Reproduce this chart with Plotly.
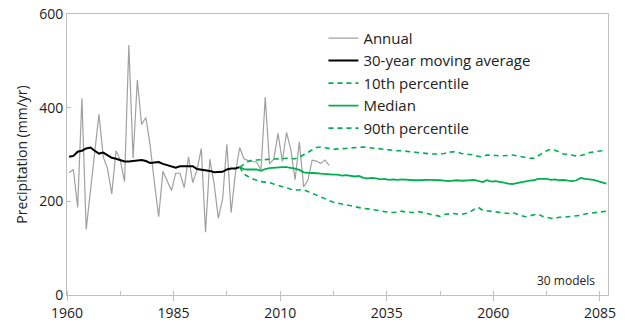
import plotly.graph_objects as go

# Observed annual precipitation (mm/yr)
annual_years = list(range(1960, 2022))
annual = [261, 268, 187, 420, 140, 225, 305, 386, 295, 270,
          216, 308, 288, 242, 534, 292, 459, 364, 379, 320,
          240, 167, 264, 242, 223, 260, 260, 229, 295, 240,
          267, 313, 134, 290, 238, 164, 205, 322, 176, 260,
          315, 291, 287, 285, 284, 267, 422, 280, 290, 345,
          285, 347, 311, 246, 327, 231, 245, 288, 286, 281,
          288, 277]

# 30-year moving average
ma_years = list(range(1960, 2001))
moving_avg = [295, 297, 306, 308, 313, 315, 308, 302, 304, 299,
              293, 291, 288, 285, 285, 286, 287, 288, 286, 282,
              283, 284, 280, 277, 274, 272, 275, 275, 276, 275,
              269, 268, 267, 265, 262, 262, 263, 268, 270, 270,
              273]

# Model projections (30 models)
proj_years = list(range(2000, 2087))
p10 = [273, 258, 253, 248, 245, 242, 241, 240, 237, 234,
       231, 228, 226, 224, 224, 225, 221, 217, 213, 209,
       205, 201, 198, 196, 194, 192, 191, 189, 187, 185,
       184, 183, 182, 180, 178, 177, 176, 177, 179, 177,
       176, 176, 178, 176, 174, 171, 169, 168, 172, 173,
       174, 173, 172, 174, 177, 183, 187, 181, 180, 179,
       178, 176, 175, 174, 176, 173, 171, 167, 169, 171,
       173, 168, 166, 164, 164, 166, 166, 167, 168, 169,
       170, 173, 174, 175, 176, 178, 179]
median = [273, 269, 268, 268, 268, 265, 269, 271, 272, 273,
          273, 273, 272, 270, 267, 262, 261, 261, 260, 259,
          258, 257, 257, 257, 255, 256, 254, 253, 254, 250,
          249, 250, 249, 247, 248, 246, 247, 246, 247, 246,
          246, 245, 245, 246, 246, 246, 246, 245, 244, 243,
          244, 245, 244, 244, 245, 246, 243, 241, 245, 242,
          243, 242, 240, 238, 237, 239, 241, 243, 244, 245,
          248, 248, 248, 246, 247, 245, 246, 244, 243, 245,
          250, 248, 247, 246, 243, 240, 238]
p90 = [273, 280, 285, 288, 288, 289, 289, 290, 290, 290,
       291, 292, 292, 291, 294, 299, 304, 310, 315, 316,
       314, 312, 311, 312, 312, 313, 314, 315, 316, 316,
       315, 314, 312, 311, 310, 309, 308, 308, 308, 307,
       306, 305, 304, 302, 302, 301, 301, 301, 302, 305,
       305, 306, 302, 301, 300, 299, 296, 295, 299, 299,
       298, 297, 297, 298, 299, 297, 296, 294, 292, 292,
       297, 303, 308, 311, 309, 305, 301, 300, 299, 297,
       298, 300, 304, 306, 307, 308, 309]

# values are annual means, plotted at mid-year
def mid(years):
    return [y + 0.5 for y in years]

GREEN = "#00B050"
FONT = "Open Sans"
DASH = "5px,4px"

fig = go.Figure()
fig.add_trace(go.Scatter(x=mid(annual_years), y=annual, mode="lines",
                         name="Annual", line=dict(color="#A0A0A0", width=1.2)))
fig.add_trace(go.Scatter(x=mid(ma_years), y=moving_avg, mode="lines",
                         name="30-year moving average", line=dict(color="#000000", width=2)))
fig.add_trace(go.Scatter(x=mid(proj_years), y=p10, mode="lines",
                         name="10th percentile", line=dict(color=GREEN, width=1.6, dash=DASH)))
fig.add_trace(go.Scatter(x=mid(proj_years), y=median, mode="lines",
                         name="Median", line=dict(color=GREEN, width=1.8)))
fig.add_trace(go.Scatter(x=mid(proj_years), y=p90, mode="lines",
                         name="90th percentile", line=dict(color=GREEN, width=1.6, dash=DASH)))

fig.add_annotation(text="30 models", xref="paper", yref="paper", x=0.98, y=0.015,
                   xanchor="right", yanchor="bottom", showarrow=False,
                   font=dict(family=FONT, size=12, color="#222222"))

fig.update_layout(
    width=625, height=327,
    margin=dict(l=67, r=17, t=14, b=32, autoexpand=False),
    paper_bgcolor="white", plot_bgcolor="white",
    font=dict(family=FONT, size=14, color="#222222"),
    showlegend=True,
    legend=dict(x=0.474, y=0.972, xanchor="left", yanchor="top",
                bgcolor="rgba(0,0,0,0)", font=dict(family=FONT, size=15, color="#222222"),
                tracegroupgap=0, itemwidth=30),
)
fig.update_xaxes(range=[1960, 2086.9], tickvals=[1960, 1985, 2010, 2035, 2060, 2085],
                 ticks="outside", ticklen=5, tickcolor="#BFBFBF", automargin=False,
                 minor=dict(dtick=12.5, tick0=1960, ticks="inside", ticklen=4, tickcolor="#BFBFBF"),
                 showline=True, linecolor="#BFBFBF", linewidth=1, mirror=True,
                 showgrid=False, zeroline=False, tickfont=dict(size=14))
fig.update_yaxes(range=[0, 600], tickvals=[0, 200, 400, 600],
                 ticks="inside", ticklen=4, tickcolor="#BFBFBF", automargin=False,
                 showline=True, linecolor="#BFBFBF", linewidth=1, mirror=True,
                 showgrid=False, zeroline=False, tickfont=dict(size=14),
                 title=dict(text="Precipitation (mm/yr)", font=dict(size=14), standoff=8))

fig.write_html("out.html")
